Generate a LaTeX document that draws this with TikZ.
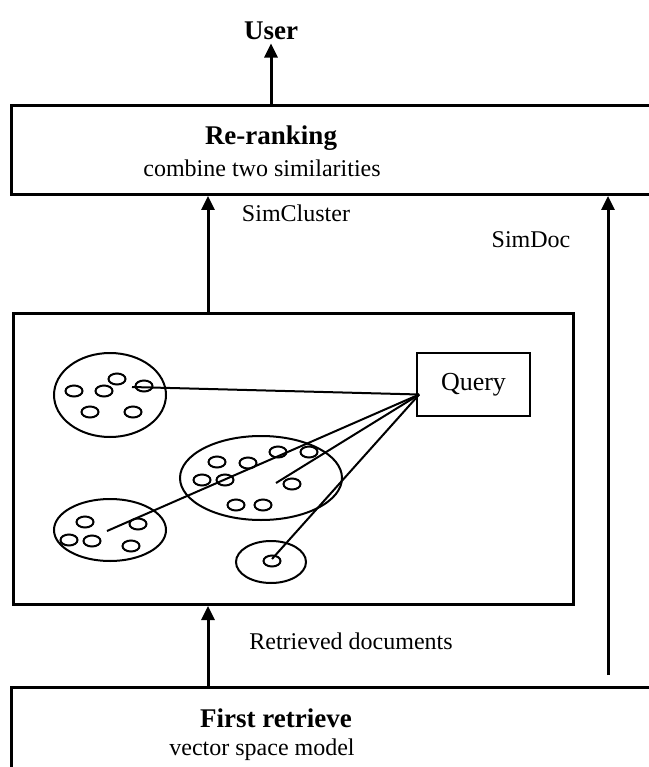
\documentclass[tikz,border=0pt]{standalone}
\usepackage{fontspec}
\setmainfont{Liberation Serif}
\usetikzlibrary{arrows.meta}
\usetikzlibrary{shapes.geometric}
\usetikzlibrary{positioning}

\tikzset{
  box/.style={draw, line width=3pt, inner sep=0pt, anchor=north west},
  flow/.style={line width=3pt, -{Triangle[length=14pt,width=13pt]}},
  tie/.style={line width=2pt},
  group/.style={draw, ellipse, line width=2pt, inner sep=0pt},
  title/.style={font=\fontsize{27}{32}\selectfont\bfseries},
  plain/.style={font=\fontsize{24}{28}\selectfont}
}

\begin{document}
\begin{tikzpicture}[x=1pt, y=-1pt]
  \useasboundingbox (0,0) rectangle (648,767);

  % top of the pipeline
  \node[title] (user) at (271,31) {User};
  \node[box, minimum width=660pt, minimum height=89pt] (rerank) at (10,104) {};
  \node[title] (rrname) at (271,138) {Re-ranking};
  \node[plain] (rrsub) at (262,168) {combine two similarities};
  \draw[flow] (rerank.north -| user) -- (user.south);

  % clustered documents
  \node[box, minimum width=560pt, minimum height=291pt] (clusters) at (12,312) {};
  \node[draw, line width=1.6pt, minimum width=113pt, minimum height=63pt,
        font=\fontsize{26}{30}\selectfont] (query) at (473.5,384.5) {Query};
  \coordinate (qpt) at ([shift={(3,10)}]query.west);

  \node[group, minimum width=112pt, minimum height=84pt] (c1) at (110,395) {};
  \node[group, minimum width=162pt, minimum height=84pt] (c2) at (261,478) {};
  \node[group, minimum width=112pt, minimum height=62pt] (c3) at (110,530) {};
  \node[group, minimum width=70pt, minimum height=42pt] (c4) at (271,562) {};

  \foreach \x/\y in {117/379, 74/391, 104/391, 144/386, 90/412, 133/412,
                     217/462, 248/463, 278/452, 309/452, 202/480, 225/480,
                     292/484, 236/505, 263/505,
                     85/522, 138/524, 69/540, 92/541, 131/546,
                     272/561}
    \draw[tie] (\x,\y) ellipse (8.5pt and 5.5pt);

  \coordinate (e1) at (132,387);
  \coordinate (e2) at (276,483);
  \coordinate (e3) at (107,531);
  \coordinate (e4) at (272,559);
  \foreach \e in {e1,e2,e3,e4}
    \draw[tie] (\e) -- (qpt);

  % first stage
  \node[box, minimum width=660pt, minimum height=100pt] (first) at (10,686) {};
  \node[title] (frname) at (276,718) {First retrieve};
  \node[plain] (frsub) at (262,750) {vector space model};

  \draw[flow] ([xshift=198pt]first.north west) -- ([xshift=196pt]clusters.south west);
  \draw[flow] ([xshift=196pt]clusters.north west) -- ([xshift=198pt]rerank.south west);
  \coordinate (docfoot) at (608,675);
  \draw[flow] (docfoot) -- (docfoot |- rerank.south);

  \node[plain] (lret) at (351,641) {Retrieved documents};
  \node[plain] (lclu) at (296,213) {SimCluster};
  \node[plain] (ldoc) at (531,240) {SimDoc};
\end{tikzpicture}
\end{document}
